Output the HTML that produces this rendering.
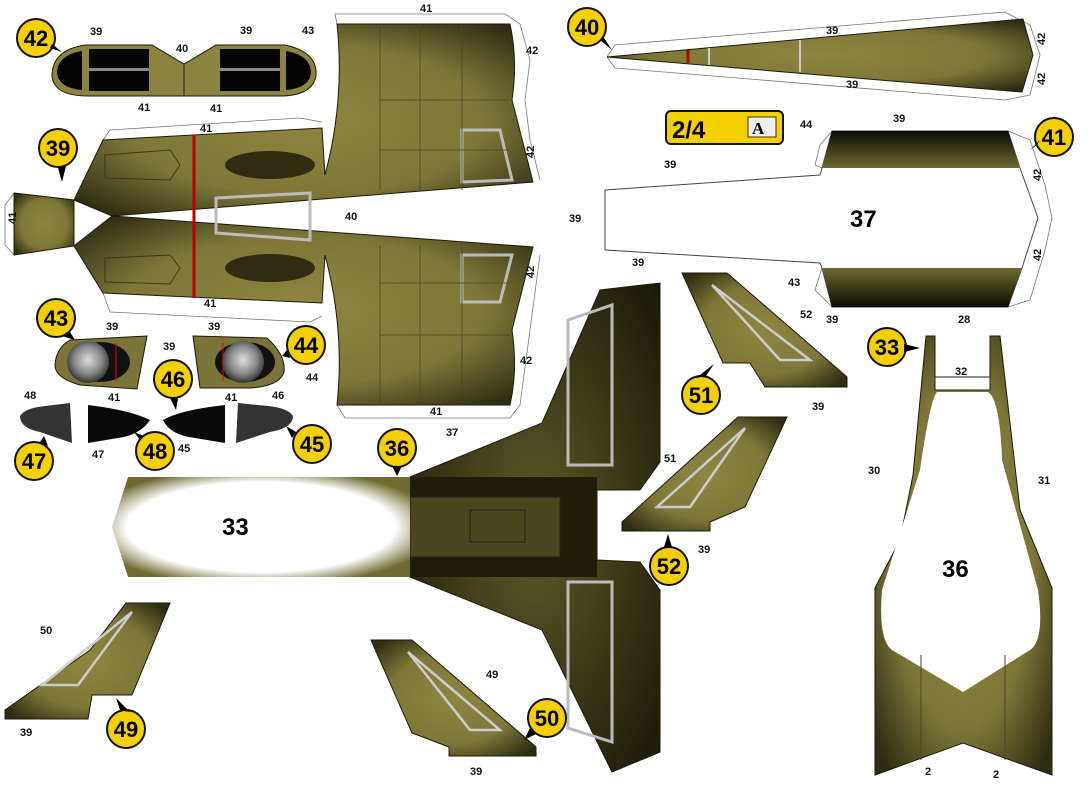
<!DOCTYPE html>
<html><head><meta charset="utf-8"><style>
html,body{margin:0;padding:0;background:#fff;}
svg{display:block;font-family:"Liberation Sans",sans-serif;}
.l{font-size:11px;font-weight:bold;fill:#111;}
.b{font-size:24px;font-weight:bold;fill:#000;}
.c{font-size:22px;font-weight:bold;fill:#000;text-anchor:middle;}
.ol{stroke:#1c1a08;stroke-width:1;}
.fl{fill:none;stroke:#777;stroke-width:0.8;}
.ld{stroke:#222;stroke-width:0.8;fill:none;}
</style></head><body>
<svg width="1090" height="800" viewBox="0 0 1090 800" xmlns="http://www.w3.org/2000/svg">
<defs>
<radialGradient id="og" cx="50%" cy="50%" r="65%">
<stop offset="0" stop-color="#8d8640"/><stop offset="0.6" stop-color="#7e7838"/><stop offset="1" stop-color="#2e2c12"/></radialGradient>
<linearGradient id="dv" x1="0" y1="0" x2="0" y2="1">
<stop offset="0" stop-color="#0c0b04"/><stop offset="1" stop-color="#6e6a30"/></linearGradient>
<linearGradient id="dv2" x1="0" y1="1" x2="0" y2="0">
<stop offset="0" stop-color="#0c0b04"/><stop offset="1" stop-color="#6e6a30"/></linearGradient>
<radialGradient id="wg" cx="50%" cy="50%" r="60%">
<stop offset="0.75" stop-color="#fff"/><stop offset="1" stop-color="#6e6a30"/></radialGradient>
<radialGradient id="dk" cx="50%" cy="50%" r="70%">
<stop offset="0" stop-color="#5e5a28"/><stop offset="1" stop-color="#1a1808"/></radialGradient>
<radialGradient id="eng" cx="50%" cy="45%" r="55%">
<stop offset="0" stop-color="#ddd"/><stop offset="0.6" stop-color="#888"/><stop offset="1" stop-color="#333"/></radialGradient>
</defs>

<!-- fold-line outlines -->
<polyline class="fl" points="337,24 335,14 505,14 520,24 530,60 525,100 530,140 540,180"/>
<polyline class="fl" points="103,140 110,130 300,118 322,122"/>
<polyline class="fl" points="103,293 110,312 310,322 322,316"/>
<polyline class="fl" points="337,405 345,418 510,418 520,405 530,330 540,255"/>
<polyline class="fl" points="14,193 5,205 5,245 14,255"/>
<polyline class="fl" points="607,57 615,45 1005,12 1030,25 1040,55 1030,95 1005,100 615,68 607,57"/>
<polyline class="fl" points="832,131 820,145 815,165 822,168"/>
<polyline class="fl" points="1008,131 1030,140 1045,185 1052,218 1045,250 1030,300 1008,307"/>
<polyline class="fl" points="822,268 815,290 832,307"/>

<!-- piece 39 fuselage -->
<path class="ol" fill="url(#og)" d="M337,24 L510,24 Q518,60 512,100 L533,182 L112,216 L74,200 L103,140 L322,128 L325,175 Q345,100 337,24Z"/>
<path class="ol" fill="url(#og)" d="M337,405 L510,405 Q518,370 512,330 L533,247 L112,216 L74,246 L103,293 L322,303 L325,255 Q345,330 337,405Z"/>
<polygon class="ol" fill="url(#og)" points="14,193 74,200 74,246 14,255"/>
<line x1="194" y1="135" x2="194" y2="298" stroke="#b00" stroke-width="3"/>
<ellipse cx="270" cy="165" rx="45" ry="14" fill="#1a1808" opacity="0.8"/>
<ellipse cx="270" cy="268" rx="45" ry="14" fill="#1a1808" opacity="0.8"/>
<polygon points="105,155 170,150 180,165 170,180 105,178" fill="none" stroke="#3a3818"/>
<polygon points="105,258 170,255 180,268 170,284 105,282" fill="none" stroke="#3a3818"/>
<polygon points="216,198 310,193 310,240 216,233" fill="none" stroke="#bbb" stroke-width="3"/>
<polygon points="462,130 500,130 512,180 462,182" fill="none" stroke="#bbb" stroke-width="3"/>
<polygon points="462,255 512,255 500,302 462,302" fill="none" stroke="#bbb" stroke-width="3"/>
<g stroke="#4a4620" stroke-width="0.8">
<line x1="380" y1="24" x2="380" y2="190"/><line x1="420" y1="24" x2="420" y2="190"/><line x1="462" y1="24" x2="462" y2="190"/>
<line x1="380" y1="245" x2="380" y2="405"/><line x1="420" y1="245" x2="420" y2="405"/><line x1="462" y1="245" x2="462" y2="405"/>
<line x1="380" y1="100" x2="510" y2="100"/><line x1="380" y1="150" x2="510" y2="150"/>
<line x1="380" y1="283" x2="510" y2="283"/><line x1="380" y1="335" x2="510" y2="335"/>
</g>
<rect x="0" y="22" width="0" height="0"/>
<text class="l" x="420" y="12">41</text><text class="l" x="302" y="34">43</text>
<text class="l" x="526" y="54">42</text><text class="l" x="200" y="132">41</text>
<text class="l" x="345" y="220">40</text><text class="l" x="204" y="307">41</text>
<text class="l" x="520" y="364">42</text><text class="l" x="306" y="381">44</text>
<text class="l" x="430" y="415">41</text>
<text class="l" x="518" y="158" transform="rotate(-90 526 150)">42</text>
<text class="l" x="518" y="278" transform="rotate(-90 526 270)">42</text>
<text class="l" x="4" y="224" transform="rotate(-90 10 218)">41</text>

<!-- piece 42 canopy -->
<path class="ol" fill="#8a8440" d="M85,45 L152,45 L184,64 L216,45 L285,45 Q318,52 316,76 Q312,96 280,96 L88,96 Q54,96 52,76 Q52,50 85,45Z"/>
<line x1="184" y1="64" x2="184" y2="96" stroke="#222"/>
<rect x="89" y="49" width="60" height="42" fill="#050505"/><rect x="220" y="49" width="60" height="42" fill="#050505"/>
<rect x="89" y="68" width="60" height="3" fill="#888"/><rect x="220" y="68" width="60" height="3" fill="#888"/>
<path d="M82,51 Q58,55 57,72 Q58,88 82,90Z" fill="#050505"/><path d="M286,51 Q310,55 311,72 Q310,88 286,90Z" fill="#050505"/>
<text class="l" x="90" y="35">39</text><text class="l" x="240" y="34">39</text><text class="l" x="176" y="52">40</text>
<text class="l" x="138" y="111">41</text><text class="l" x="210" y="112">41</text>

<!-- 43/44 -->
<path class="ol" fill="#7a7438" d="M70,340 L147,336 L137,389 L80,385 Q55,378 55,365 Q56,348 70,340Z"/>
<path class="ol" fill="#7a7438" d="M193,336 L267,338 Q286,355 284,372 Q280,386 250,388 L200,388Z"/>
<ellipse cx="100" cy="362" rx="30" ry="20" fill="#111"/><circle cx="88" cy="362" r="21" fill="url(#eng)"/>
<line x1="116" y1="343" x2="116" y2="381" stroke="#e00"/>
<ellipse cx="245" cy="362" rx="30" ry="20" fill="#111"/><circle cx="243" cy="362" r="21" fill="url(#eng)"/>
<line x1="223" y1="343" x2="223" y2="381" stroke="#e00"/>
<text class="l" x="106" y="330">39</text><text class="l" x="208" y="330">39</text><text class="l" x="163" y="350">39</text>
<text class="l" x="108" y="401">41</text><text class="l" x="225" y="401">41</text>

<!-- 45-48 -->
<path d="M20,416 Q25,408 45,406 L70,403 L72,443 L40,432 Q20,428 20,416Z" fill="#333"/>
<path d="M88,405 Q130,410 150,420 Q140,435 118,438 L88,443Z" fill="#0a0a0a"/>
<path d="M225,405 Q180,410 163,420 Q170,435 195,438 L225,443Z" fill="#0a0a0a"/>
<path d="M293,416 Q288,408 268,406 L238,403 L236,443 L270,432 Q293,428 293,416Z" fill="#333"/>
<text class="l" x="24" y="399">48</text><text class="l" x="272" y="399">46</text>
<text class="l" x="92" y="458">47</text><text class="l" x="178" y="452">45</text>

<!-- piece 40 -->
<polygon class="ol" fill="url(#og)" points="607,57 1023,19 1033,55 1022,92"/>
<line x1="688" y1="50" x2="688" y2="63" stroke="#b00" stroke-width="3"/>
<line x1="709" y1="48" x2="709" y2="65" stroke="#ccc" stroke-width="2"/>
<line x1="800" y1="40" x2="800" y2="72" stroke="#ccc" stroke-width="2"/>
<text class="l" x="826" y="34">39</text><text class="l" x="846" y="88">39</text>
<text class="l" x="1030" y="40" transform="rotate(-90 1040 35)">42</text>
<text class="l" x="1030" y="80" transform="rotate(-90 1040 75)">42</text>

<!-- 2/4 label -->
<rect x="666" y="111" width="117" height="33" rx="5" fill="#f4d000" stroke="#111" stroke-width="2"/>
<text x="672" y="138" style="font-size:24px;font-weight:bold">2/4</text>
<rect x="748" y="117" width="28" height="20" fill="#eee" stroke="#333"/>
<text x="752" y="134" style="font-family:'Liberation Serif',serif;font-size:17px;font-weight:bold">A</text>

<!-- piece 37 -->
<polygon points="605,190 820,175 822,168 832,131 1008,131 1020,168 1038,218 1022,268 1008,307 832,307 822,268 820,263 605,250" fill="#fff" stroke="#444"/>
<polygon points="832,131 1008,131 1020,168 822,168" fill="url(#dv)"/>
<polygon points="822,268 1022,268 1008,307 832,307" fill="url(#dv2)"/>
<text class="b" x="850" y="227">37</text>
<text class="l" x="800" y="128">44</text><text class="l" x="893" y="122">39</text>
<text class="l" x="664" y="168">39</text><text class="l" x="569" y="222">39</text>
<text class="l" x="632" y="266">39</text><text class="l" x="788" y="286">43</text><text class="l" x="826" y="323">39</text>
<text class="l" x="1030" y="180" transform="rotate(-90 1036 175)">42</text>
<text class="l" x="1030" y="260" transform="rotate(-90 1036 255)">42</text>

<!-- center piece 33/36 -->
<polygon fill="url(#dk)" class="ol" points="410,477 542,423 600,290 660,283 660,462 640,490 597,490 597,560 640,562 660,590 660,752 612,772 542,630 410,577"/>
<polygon fill="#1f1d0a" points="410,477 597,477 597,577 410,577"/>
<rect x="410" y="497" width="150" height="60" fill="#4a4620" stroke="#222"/>
<rect x="470" y="510" width="55" height="32" fill="none" stroke="#222"/>
<polygon points="568,320 612,305 612,465 568,465" fill="none" stroke="#bbb" stroke-width="3"/>
<polygon points="568,582 612,582 612,742 568,728" fill="none" stroke="#bbb" stroke-width="3"/>
<polygon points="128,477 410,477 410,577 128,577 112,527" fill="url(#wg)"/>
<text class="b" x="222" y="535">33</text>
<text class="l" x="446" y="436">37</text>

<!-- small wings -->
<polygon class="ol" fill="url(#og)" points="682,273 727,273 847,377 847,387 765,387 750,363 723,363"/>
<polygon points="712,285 810,360 780,360" fill="none" stroke="#ccc" stroke-width="2.5"/>
<text class="l" x="800" y="318">52</text><text class="l" x="812" y="410">39</text>
<polygon class="ol" fill="url(#og)" points="738,417 787,417 745,507 710,522 710,531 622,531 622,522"/>
<polygon points="745,428 690,507 657,507" fill="none" stroke="#ccc" stroke-width="2.5"/>
<text class="l" x="664" y="462">51</text><text class="l" x="698" y="553">39</text>
<polygon class="ol" fill="url(#og)" points="126,603 170,603 132,695 92,695 88,719 5,719 5,710 90,650"/>
<polygon points="132,612 78,685 42,685" fill="none" stroke="#ccc" stroke-width="2.5"/>
<text class="l" x="40" y="634">50</text><text class="l" x="20" y="736">39</text>
<polygon class="ol" fill="url(#og)" points="371,640 412,640 536,747 536,756 449,756 449,747 412,733"/>
<polygon points="408,652 500,730 470,730" fill="none" stroke="#ccc" stroke-width="2.5"/>
<text class="l" x="486" y="678">49</text><text class="l" x="470" y="775">39</text>

<!-- piece 36 -->
<path class="ol" fill="url(#og)" d="M926,336 L935,336 L935,390 L990,390 L990,336 L1000,336 L1020,510 L1052,588 L1052,775 L963,743 L875,775 L875,588 L900,540 L913,475 Z"/>
<path d="M937,392 L988,392 Q1000,400 1002,460 L1038,590 Q1045,640 1030,650 L963,692 L892,650 Q878,640 882,590 L920,470 Q930,400 937,392Z" fill="#fff"/>
<line x1="921" y1="655" x2="921" y2="760" stroke="#4a4620"/><line x1="1005" y1="655" x2="1005" y2="760" stroke="#4a4620"/>
<rect x="935" y="377" width="55" height="13" fill="#fff" stroke="#222"/>
<text class="b" x="942" y="577">36</text>
<text class="l" x="958" y="323">28</text><text class="l" x="955" y="375">32</text>
<text class="l" x="868" y="474">30</text><text class="l" x="1038" y="484">31</text>
<text class="l" x="925" y="775">2</text><text class="l" x="993" y="778">2</text>

<!-- yellow markers -->
<g fill="#f4d000" stroke="#111" stroke-width="2">
<circle cx="36" cy="38" r="19"/><circle cx="58" cy="148" r="19"/><circle cx="587" cy="27" r="19"/>
<circle cx="1054" cy="137" r="19"/><circle cx="56" cy="318" r="19"/><circle cx="306" cy="345" r="19"/>
<circle cx="173" cy="379" r="19"/><circle cx="887" cy="347" r="19"/><circle cx="34" cy="461" r="19"/>
<circle cx="155" cy="451" r="19"/><circle cx="312" cy="444" r="19"/><circle cx="397" cy="448" r="19"/>
<circle cx="701" cy="395" r="19"/><circle cx="669" cy="566" r="19"/><circle cx="126" cy="729" r="19"/>
<circle cx="547" cy="718" r="19"/></g>
<g fill="#000">
<polygon points="50,48 62,52 52,44"/><polygon points="58,168 62,182 66,166"/><polygon points="600,40 612,50 604,38"/>
<polygon points="1037,145 1030,150 1040,140"/><polygon points="70,332 75,340 62,336"/><polygon points="287,350 282,356 290,358"/>
<polygon points="178,398 176,410 170,398"/><polygon points="904,344 920,348 904,352"/><polygon points="40,442 44,436 48,446"/>
<polygon points="140,440 134,432 144,436"/><polygon points="296,432 286,426 292,438"/><polygon points="392,466 397,476 402,466"/>
<polygon points="706,376 714,364 696,378"/><polygon points="664,547 668,534 672,547"/><polygon points="120,710 116,698 130,712"/>
<polygon points="530,728 524,740 536,734"/></g>
<g class="c">
<text x="36" y="46">42</text><text x="58" y="156">39</text><text x="587" y="35">40</text><text x="1054" y="145">41</text>
<text x="56" y="326">43</text><text x="306" y="353">44</text><text x="173" y="387">46</text><text x="887" y="355">33</text>
<text x="34" y="469">47</text><text x="155" y="459">48</text><text x="312" y="452">45</text><text x="397" y="456">36</text>
<text x="701" y="403">51</text><text x="669" y="574">52</text><text x="126" y="737">49</text><text x="547" y="726">50</text>
</g>
</svg>
</body></html>
